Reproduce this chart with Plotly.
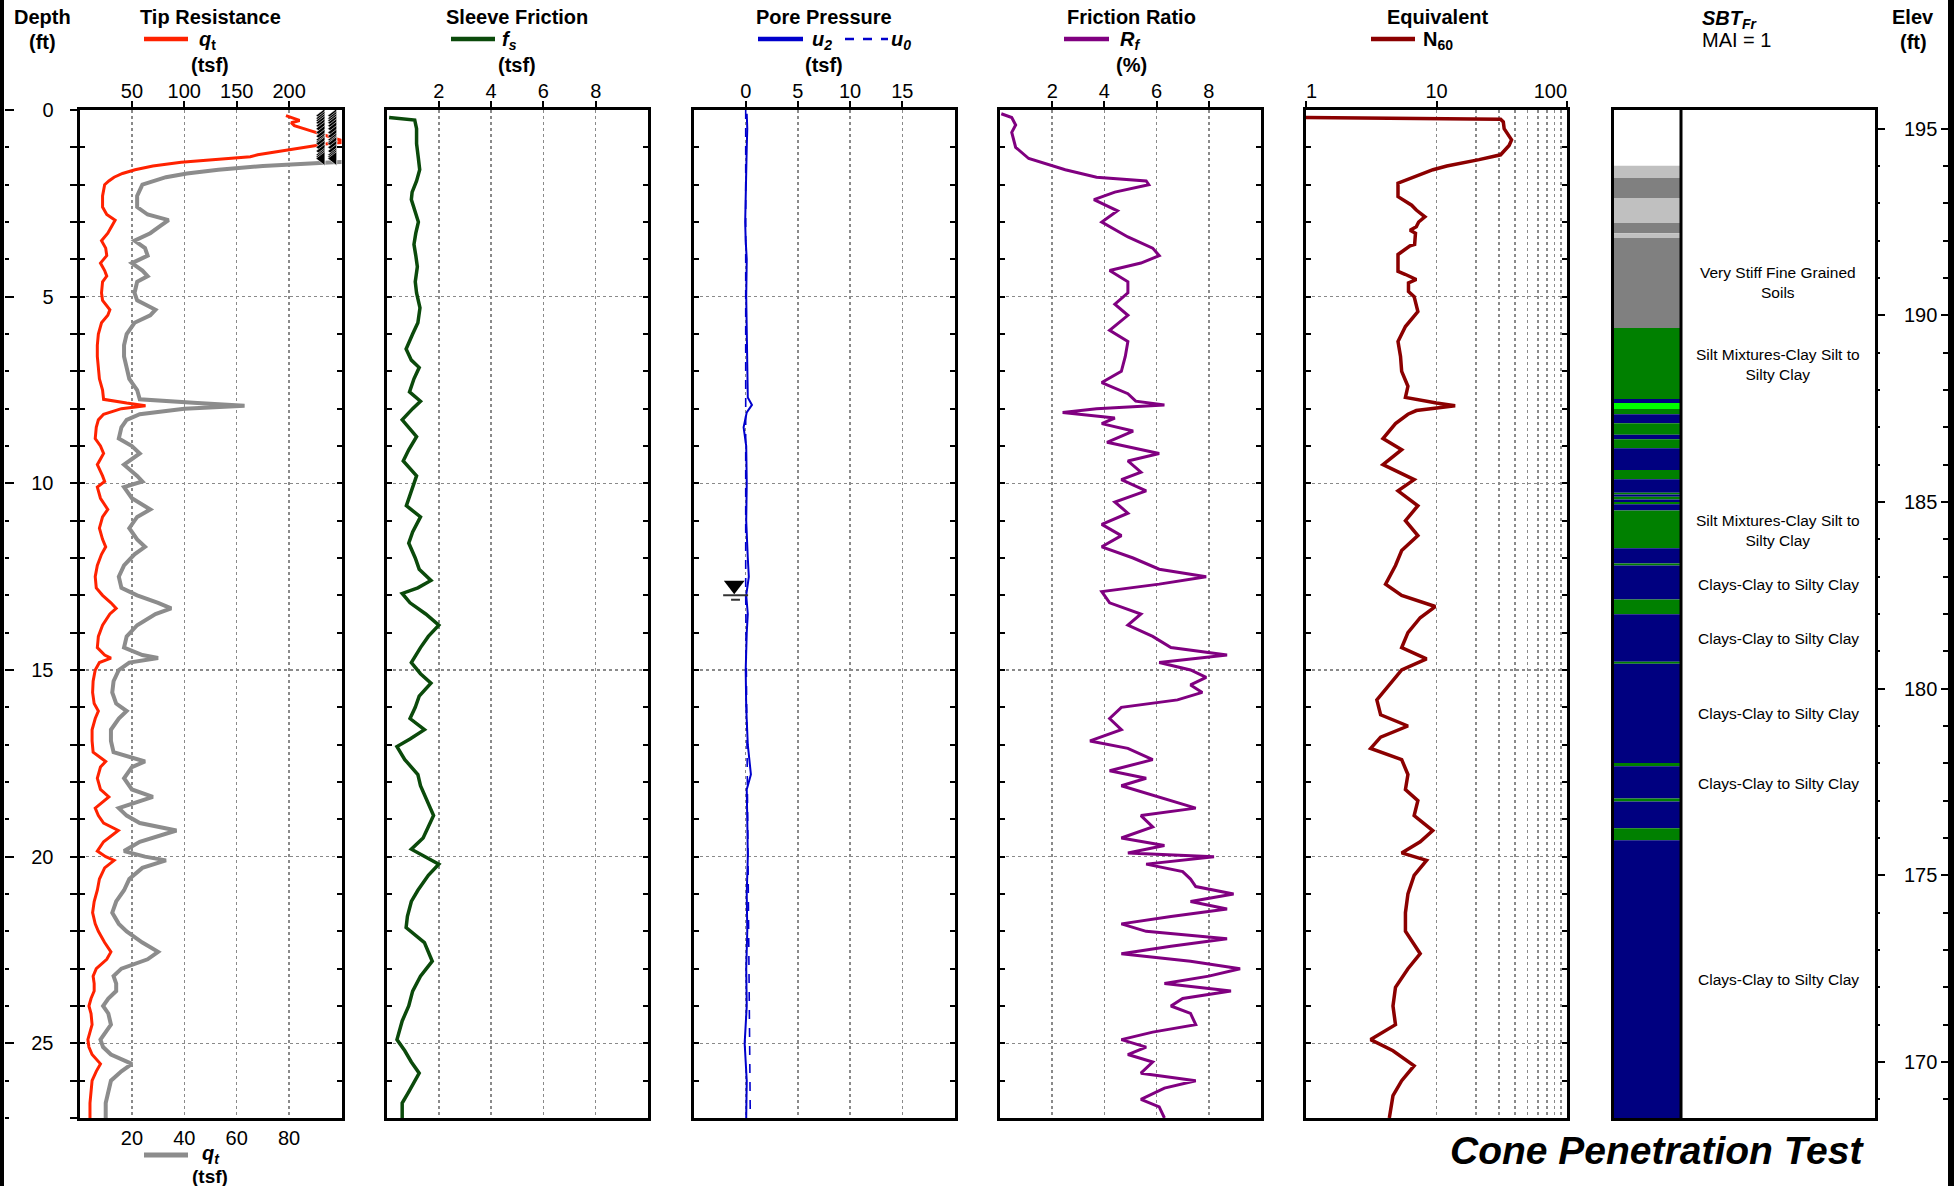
import plotly.graph_objects as go

W, H = 1954, 1186
FONT = "Liberation Sans, Arial, Helvetica, sans-serif"

# ---------------- data ----------------
max_depth = 27.0
ground_elev = 195.5
water_table_depth = 13.0

depth_ticks = [0, 5, 10, 15, 20, 25]
elev_ticks = [195, 190, 185, 180, 175, 170]
tip_ticks = [50, 100, 150, 200]
tip2_ticks = [20, 40, 60, 80]
fs_ticks = [2, 4, 6, 8]
u_ticks = [0, 5, 10, 15]
rf_ticks = [2, 4, 6, 8]
n60_ticks = [1, 10, 100]
n60_ticktext = ["1", "10", "100"]
n60_minor = [20, 30, 40, 50, 60, 70, 80, 90]

qt_depth = [0.15, 0.22, 0.28, 0.34, 0.42, 0.5, 0.6, 0.7, 0.8, 0.86,
            0.9, 1.0, 1.1, 1.2, 1.25, 1.3, 1.4, 1.5, 1.6, 1.7,
            1.8, 1.9, 2.0, 2.3, 2.6, 2.8, 2.95, 3.1, 3.3, 3.5,
            3.7, 3.9, 4.1, 4.3, 4.45, 4.6, 4.9, 5.1, 5.35, 5.5,
            5.7, 6.0, 6.3, 6.6, 6.9, 7.2, 7.5, 7.75, 7.85, 7.92,
            8.0, 8.15, 8.3, 8.5, 8.8, 9.0, 9.2, 9.5, 9.8, 9.95,
            10.1, 10.4, 10.7, 10.9, 11.2, 11.5, 11.7, 11.9, 12.2, 12.5,
            12.8, 13.0, 13.2, 13.35, 13.5, 13.8, 14.1, 14.4, 14.6, 14.68,
            14.8, 15.0, 15.3, 15.6, 15.9, 16.1, 16.3, 16.6, 16.9, 17.2,
            17.45, 17.6, 17.9, 18.2, 18.4, 18.55, 18.7, 18.9, 19.1, 19.3,
            19.45, 19.6, 19.85, 20.0, 20.1, 20.3, 20.6, 20.9, 21.2, 21.5,
            21.8, 22.0, 22.3, 22.55, 22.75, 23.0, 23.2, 23.4, 23.6, 23.8,
            24.0, 24.2, 24.5, 24.7, 24.9, 25.1, 25.3, 25.55, 25.75, 26.0,
            26.3, 26.6, 26.9, 27.0]
qt = [197, 204, 210, 202, 205, 214, 226, 238, 248, 255,
      238, 215, 192, 170, 163, 140, 97, 70, 53, 41,
      33, 28, 24, 22, 22, 26, 34, 31, 27, 21,
      25, 26, 20, 24, 26, 22, 21, 22, 29, 27,
      21, 18, 17, 17, 18, 19, 22, 23, 45, 63,
      40, 23, 18, 16, 15, 20, 23, 17, 22, 24,
      17, 20, 27, 22, 19, 22, 25, 21, 17, 15,
      16, 22, 30, 35, 29, 22, 18, 17, 24, 30,
      19, 15, 13, 12.5, 14, 18, 15, 12, 12, 13,
      25, 20, 17, 20, 28, 22, 15, 18, 23, 37,
      30, 23, 17, 25, 33, 24, 19, 17, 14, 12.5,
      15, 18, 24, 30, 26, 16, 13, 14, 14, 11,
      9, 11, 12, 10, 8, 9, 12, 20, 16, 12,
      11, 10, 10, 10]

fs_depth = [0.2, 0.27, 0.5, 0.9, 1.3, 1.6, 1.9, 2.2, 2.4, 2.7,
            3.0, 3.3, 3.6, 3.9, 4.2, 4.6, 4.9, 5.3, 5.7, 6.0,
            6.4, 6.7, 6.9, 7.2, 7.55, 7.8, 8.0, 8.3, 8.75, 9.1,
            9.4, 9.8, 10.2, 10.6, 10.9, 11.3, 11.6, 12.0, 12.3, 12.6,
            12.8, 12.95, 13.2, 13.5, 13.8, 14.1, 14.4, 14.8, 15.1, 15.35,
            15.7, 16.0, 16.3, 16.6, 16.85, 17.05, 17.4, 17.8, 18.1, 18.4,
            18.9, 19.2, 19.5, 19.8, 20.0, 20.2, 20.5, 20.9, 21.2, 21.6,
            21.9, 22.3, 22.8, 23.2, 23.6, 24.0, 24.4, 24.9, 25.2, 25.5,
            25.8, 26.0, 26.3, 26.6, 27.0]
fs = [0.1, 1.08, 1.15, 1.15, 1.22, 1.27, 1.15, 0.98, 0.95, 1.1,
      1.22, 1.12, 1.05, 1.12, 1.18, 1.1, 1.15, 1.28, 1.2, 1.0,
      0.75, 0.95, 1.25, 1.05, 0.88, 1.3, 1.0, 0.6, 1.15, 0.85,
      0.64, 1.15, 0.95, 0.76, 1.3, 1.0, 0.85, 1.1, 1.25, 1.7,
      1.2, 0.6, 0.9, 1.5, 2.0, 1.6, 1.3, 0.95, 1.3, 1.7,
      1.25, 1.1, 0.9, 1.45, 0.9, 0.4, 0.7, 1.2, 1.3, 1.5,
      1.8, 1.6, 1.4, 0.95, 1.5, 2.0, 1.6, 1.2, 0.95, 0.8,
      0.75, 1.45, 1.75, 1.3, 1.0, 0.85, 0.6, 0.4, 0.7, 0.95,
      1.25, 1.1, 0.85, 0.6, 0.6]

u2_depth = [0.1, 0.5, 1.0, 2.0, 3.0, 3.5, 4.0, 5.0, 6.0, 7.0,
            7.7, 7.9, 8.1, 8.5, 9.0, 10.0, 11.0, 12.0, 12.5, 13.0,
            13.5, 14.0, 15.0, 16.0, 17.0, 17.8, 18.2, 19.0, 20.0, 21.0,
            22.0, 23.0, 24.0, 25.0, 26.0, 27.0]
u2 = [0.1, 0.15, 0.1, 0.05, -0.05, 0.0, 0.1, 0.05, 0.1, 0.15,
      0.2, 0.6, 0.1, -0.2, 0.05, 0.1, 0.05, 0.2, 0.3, 0.05,
      0.2, 0.1, 0.0, 0.05, 0.2, 0.5, 0.1, 0.15, 0.2, 0.1,
      0.15, 0.05, 0.1, -0.1, 0.1, 0.05]
u0_depth = [0.0, 13.0, 27.0]
u0 = [0.0, 0.0, 0.44]

rf_depth = [0.1, 0.2, 0.4, 0.6, 1.0, 1.3, 1.6, 1.8, 1.9, 2.0,
            2.2, 2.4, 2.7, 3.0, 3.4, 3.7, 3.9, 4.1, 4.3, 4.6,
            4.9, 5.2, 5.5, 5.9, 6.2, 6.6, 7.0, 7.3, 7.6, 7.8,
            7.9, 8.0, 8.1, 8.25, 8.4, 8.6, 8.9, 9.2, 9.4, 9.7,
            9.9, 10.2, 10.5, 10.8, 11.1, 11.4, 11.7, 12.0, 12.3, 12.5,
            12.7, 12.9, 13.2, 13.5, 13.8, 14.1, 14.4, 14.6, 14.8, 15.0,
            15.2, 15.4, 15.6, 15.8, 16.0, 16.3, 16.6, 16.9, 17.1, 17.4,
            17.7, 17.9, 18.1, 18.4, 18.7, 18.9, 19.2, 19.5, 19.7, 19.9,
            20.0, 20.2, 20.4, 20.6, 20.8, 21.0, 21.2, 21.4, 21.6, 21.8,
            22.0, 22.2, 22.4, 22.6, 22.8, 23.0, 23.2, 23.4, 23.6, 23.8,
            24.0, 24.2, 24.5, 24.7, 24.9, 25.1, 25.3, 25.5, 25.8, 26.0,
            26.2, 26.5, 26.7, 27.0]
rf = [0.05, 0.45, 0.6, 0.45, 0.6, 1.1, 2.5, 3.7, 5.6, 5.7,
      4.4, 3.6, 4.5, 3.9, 4.9, 5.85, 6.1, 5.4, 4.2, 4.9,
      4.9, 4.4, 4.9, 4.2, 4.9, 4.8, 4.65, 3.9, 4.9, 5.2,
      6.3, 3.7, 2.4, 4.4, 3.9, 5.1, 4.1, 6.1, 4.9, 5.4,
      4.65, 5.6, 4.4, 4.9, 3.9, 4.65, 3.9, 5.1, 6.1, 7.9,
      6.1, 3.9, 4.2, 5.4, 4.9, 5.85, 6.55, 8.7, 6.1, 7.3,
      7.9, 7.3, 7.75, 6.8, 4.65, 4.2, 4.65, 3.45, 4.9, 5.85,
      4.2, 5.6, 4.65, 6.1, 7.5, 5.4, 5.85, 4.65, 6.3, 4.9,
      8.2, 5.6, 7.0, 7.3, 7.5, 8.95, 7.3, 8.7, 6.55, 4.65,
      5.6, 8.7, 6.55, 4.65, 7.3, 9.2, 8.0, 6.3, 8.85, 7.0,
      6.55, 7.3, 7.5, 5.85, 4.65, 5.6, 4.9, 5.85, 5.4, 7.5,
      6.3, 5.4, 6.1, 6.3]

n60_depth = [0.2, 0.25, 0.32, 0.5, 0.7, 0.8, 0.95, 1.04, 1.2, 1.33,
             1.42, 1.5, 1.6, 1.83, 1.96, 2.32, 2.43, 2.55, 2.68, 2.86,
             3.0, 3.13, 3.22, 3.3, 3.6, 3.64, 3.87, 4.32, 4.4, 4.54,
             4.63, 4.86, 5.0, 5.4, 5.8, 6.2, 6.6, 7.0, 7.4, 7.7,
             7.85, 7.92, 8.05, 8.15, 8.4, 8.8, 9.1, 9.5, 9.9, 10.2,
             10.6, 11.0, 11.4, 11.8, 12.2, 12.7, 13.0, 13.3, 13.6, 14.0,
             14.4, 14.7, 15.0, 15.4, 15.8, 16.2, 16.5, 16.8, 17.1, 17.4,
             17.8, 18.2, 18.5, 18.9, 19.3, 19.6, 19.9, 20.1, 20.5, 21.0,
             21.5, 22.0, 22.6, 23.0, 23.5, 24.0, 24.5, 24.9, 25.2, 25.6,
             26.0, 26.4, 27.0]
n60 = [1.0, 31, 32.5, 33, 36, 37.6, 36, 34.3, 31, 21.2,
       15.2, 12, 9.4, 6.3, 5.07, 5.07, 5.74, 6.45, 7.0, 8.15,
       7.3, 7.0, 6.27, 6.9, 6.8, 6.27, 5.07, 5.07, 5.74, 7.0,
       6.1, 6.1, 6.74, 7.2, 5.78, 5.07, 5.3, 5.41, 6.04, 5.78,
       10, 13.9, 7, 6.04, 4.85, 3.89, 5.41, 3.89, 6.74, 5.07,
       7.2, 5.78, 7.2, 5.41, 4.85, 4.07, 5.41, 9.78, 7.5, 6.04,
       5.41, 8.39, 5.41, 4.35, 3.49, 3.73, 6.04, 3.73, 3.13, 5.41,
       6.04, 5.78, 7.2, 6.74, 9.36, 7.5, 5.41, 8.39, 6.74, 6.04,
       5.78, 5.78, 7.5, 6.04, 4.85, 4.64, 4.85, 3.13, 4.64, 6.74,
       5.41, 4.64, 4.35]

sbt_top = [1.49, 1.82, 2.36, 3.03, 3.30, 3.43, 5.84, 7.74, 7.85, 8.01,
           8.15, 8.39, 8.70, 8.82, 9.06, 9.64, 9.89, 10.25, 10.30, 10.36,
           10.43, 10.50, 10.56, 10.73, 11.74, 12.15, 12.20, 13.11, 13.51, 14.78,
           14.83, 17.49, 17.58, 18.44, 18.52, 19.24, 19.56]
VSS, VSF, SIL, CLA, SAN = ("Very Stiff Sand to Clayey Sand", "Very Stiff Fine Grained",
                           "Silt Mixtures", "Clays", "Sand Mixtures")
sbt_zone = [VSS, VSF, VSS, VSF, VSS, VSF, SIL, CLA, SAN, SIL,
            CLA, SIL, CLA, SIL, CLA, SIL, CLA, SIL, CLA, SIL,
            CLA, SIL, CLA, SIL, CLA, SIL, CLA, SIL, CLA, SIL,
            CLA, SIL, CLA, SIL, CLA, SIL, CLA]
sbt_label_depth = [4.63, 6.82, 11.26, 12.7, 14.15, 16.17, 18.04, 23.3]
sbt_label_text = ["Very Stiff Fine Grained<br>Soils",
                  "Silt Mixtures-Clay Silt to<br>Silty Clay",
                  "Silt Mixtures-Clay Silt to<br>Silty Clay",
                  "Clays-Clay to Silty Clay",
                  "Clays-Clay to Silty Clay",
                  "Clays-Clay to Silty Clay",
                  "Clays-Clay to Silty Clay",
                  "Clays-Clay to Silty Clay"]

# ---------------- styling ----------------
zone_colors = {VSS: "#c0c0c0", VSF: "#808080", SIL: "#008000", CLA: "#000080", SAN: "#00ff00"}
C_RED, C_GRAY, C_GREEN, C_BLUE, C_PURPLE, C_N60 = "#ff2200", "#8c8c8c", "#0b4a0b", "#0000cc", "#800080", "#8b0000"
NB = "\u00a0"


def fx(p):
    return p / W


def fy(p):
    return 1 - p / H


Y_TOP, Y_BOT = 110, 1118
ydom = [fy(Y_BOT), fy(Y_TOP)]
P = {"tip": (79.5, 341.5), "fs": (386.5, 648), "u": (693.5, 954.5),
     "rf": (1000, 1261), "n60": (1306, 1567), "sbt": (1614, 1875)}
SBT_COL_R = 1681
QT_MAX, QT2_MAX = 250, 100
SBT_XMAX = (P["sbt"][1] - P["sbt"][0]) / (SBT_COL_R - P["sbt"][0])

fig = go.Figure()

# tip resistance
fig.add_trace(go.Scatter(x=qt, y=qt_depth, mode="lines", line=dict(color=C_GRAY, width=4),
                         xaxis="x2", yaxis="y"))
fig.add_trace(go.Scatter(x=qt, y=qt_depth, mode="lines", line=dict(color=C_RED, width=3),
                         xaxis="x", yaxis="y"))
off_depth = [d for d, v in zip(qt_depth, qt) if v > QT2_MAX]
for frac in (0.925, 0.97):
    fig.add_trace(go.Scatter(x=[QT2_MAX * frac] * len(off_depth), y=off_depth, mode="markers",
                             marker=dict(symbol="triangle-left", size=12, color="black",
                                         line=dict(color="white", width=0.6)),
                             xaxis="x2", yaxis="y"))
# sleeve friction
fig.add_trace(go.Scatter(x=fs, y=fs_depth, mode="lines", line=dict(color=C_GREEN, width=3.5),
                         xaxis="x3", yaxis="y3"))
# pore pressure
fig.add_trace(go.Scatter(x=u0, y=u0_depth, mode="lines", line=dict(color=C_BLUE, width=1.6, dash="dash"),
                         xaxis="x4", yaxis="y4"))
fig.add_trace(go.Scatter(x=u2, y=u2_depth, mode="lines", line=dict(color=C_BLUE, width=2),
                         xaxis="x4", yaxis="y4"))
fig.add_trace(go.Scatter(x=[-1.1], y=[water_table_depth - 0.27], mode="markers",
                         marker=dict(symbol="triangle-down", size=18, color="black"),
                         xaxis="x4", yaxis="y4"))
# friction ratio
fig.add_trace(go.Scatter(x=rf, y=rf_depth, mode="lines", line=dict(color=C_PURPLE, width=3),
                         xaxis="x5", yaxis="y5"))
# N60
fig.add_trace(go.Scatter(x=n60, y=n60_depth, mode="lines", line=dict(color=C_N60, width=3.5),
                         xaxis="x6", yaxis="y6"))
# SBT column
sbt_bottom = sbt_top[1:] + [max_depth]
fig.add_trace(go.Bar(orientation="h", x=[1] * len(sbt_top),
                     y=[(t + b) / 2 for t, b in zip(sbt_top, sbt_bottom)],
                     width=[b - t for t, b in zip(sbt_top, sbt_bottom)], base=0,
                     marker=dict(color=[zone_colors[z] for z in sbt_zone], line=dict(width=0)),
                     xaxis="x7", yaxis="y7"))
# dummy traces so that the extra axes are drawn
for xa, ya in (("x", "y8"), ("x", "y9"), ("x7", "y10"), ("x7", "y11")):
    fig.add_trace(go.Scatter(x=[None], y=[None], xaxis=xa, yaxis=ya, hoverinfo="skip"))

tickfont = dict(family=FONT, size=20, color="black")
grid = dict(showgrid=True, gridcolor="#8a8a8a", griddash="dot", gridwidth=1.5)


def xax(key, rng, tv, anchor, **kw):
    d = dict(domain=[fx(P[key][0]), fx(P[key][1])], range=rng, tickvals=tv, side="top",
             anchor=anchor, showline=True, linewidth=3, linecolor="black", mirror=True,
             ticks="outside", ticklen=6, tickwidth=2, tickcolor="black", tickfont=tickfont,
             ticklabelstandoff=-5, zeroline=False, fixedrange=True)
    d.update(grid)
    d.update(kw)
    return d


def ydepth(anchor, **kw):
    d = dict(domain=ydom, range=[max_depth, 0], anchor=anchor, tickvals=depth_ticks,
             showticklabels=False, showline=True, linewidth=3, linecolor="black", mirror="ticks",
             ticks="inside", ticklen=5, tickwidth=2, tickcolor="black", zeroline=False,
             minor=dict(dtick=1, ticks="inside", ticklen=5, tickwidth=2, tickcolor="black", showgrid=False))
    d.update(grid)
    d.update(kw)
    return d


# N60 end labels sit inside the panel edges in the reference
n60_text = [NB * 2 + n60_ticktext[0], n60_ticktext[1], n60_ticktext[2] + NB * 6]

elev_range = [ground_elev - max_depth, ground_elev]
layout = dict(
    width=W, height=H, margin=dict(l=0, r=0, t=0, b=0, pad=0, autoexpand=False), showlegend=False,
    paper_bgcolor="white", plot_bgcolor="white", font=dict(family=FONT, color="black"),
    xaxis=xax("tip", [0, QT_MAX], tip_ticks, "y"),
    xaxis2=dict(overlaying="x", side="bottom", anchor="y", range=[0, QT2_MAX], tickvals=tip2_ticks,
                showline=False, showgrid=False, zeroline=False, ticks="outside", ticklen=2,
                tickcolor="rgba(0,0,0,0)", tickfont=tickfont),
    xaxis3=xax("fs", [0, 10], fs_ticks, "y3"),
    xaxis4=xax("u", [-5, 20], u_ticks, "y4"),
    xaxis5=xax("rf", [0, 10], rf_ticks, "y5"),
    xaxis6=xax("n60", [0, 2], n60_ticks, "y6", type="log", ticktext=n60_text,
               minor=dict(tickvals=n60_minor, ticks="", showgrid=True, gridcolor="#8a8a8a",
                          griddash="dot", gridwidth=1.5)),
    xaxis7=xax("sbt", [0, SBT_XMAX], [], "y7", showgrid=False, ticks=""),
    yaxis=ydepth("x"),
    yaxis3=ydepth("x3"),
    yaxis4=ydepth("x4"),
    yaxis5=ydepth("x5"),
    yaxis6=ydepth("x6"),
    yaxis7=ydepth("x7", ticks="", showgrid=False, mirror=True, minor=dict(ticks="")),
    yaxis8=dict(overlaying="y", anchor="x", side="left", range=[max_depth, 0], tickvals=depth_ticks,
                ticks="outside", ticklen=9, tickwidth=2, tickcolor="black", tickfont=tickfont,
                ticklabelstandoff=12, showline=False, showgrid=False, zeroline=False,
                minor=dict(dtick=1, ticks="outside", ticklen=9, tickwidth=2, tickcolor="black")),
    yaxis9=dict(overlaying="y", anchor="free", position=fx(4), side="right", range=[max_depth, 0],
                tickvals=depth_ticks, showticklabels=False, ticks="outside", ticklen=9, tickwidth=2,
                tickcolor="black", showline=False, showgrid=False, zeroline=False,
                minor=dict(dtick=1, ticks="outside", ticklen=4, tickwidth=2, tickcolor="black")),
    yaxis10=dict(overlaying="y7", anchor="x7", side="right", range=elev_range,
                 tickvals=elev_ticks, ticks="outside", ticklen=9, tickwidth=2, tickcolor="black",
                 tickfont=tickfont, ticklabelstandoff=15, showline=False, showgrid=False, zeroline=False,
                 minor=dict(dtick=1, ticks="outside", ticklen=4, tickwidth=2, tickcolor="black")),
    yaxis11=dict(overlaying="y7", anchor="free", position=fx(1948), side="left",
                 range=elev_range, tickvals=elev_ticks, showticklabels=False,
                 ticks="outside", ticklen=7, tickwidth=2, tickcolor="black", showline=False,
                 showgrid=False, zeroline=False,
                 minor=dict(dtick=1, ticks="outside", ticklen=5, tickwidth=2, tickcolor="black")),
)
fig.update_layout(**layout)

shapes = []
# page borders
shapes.append(dict(type="line", xref="paper", yref="paper", x0=fx(2), x1=fx(2), y0=0, y1=1,
                   line=dict(color="black", width=4)))
shapes.append(dict(type="line", xref="paper", yref="paper", x0=fx(1951), x1=fx(1951), y0=0, y1=1,
                   line=dict(color="black", width=6)))
# SBT column separator
shapes.append(dict(type="line", xref="paper", yref="paper", x0=fx(SBT_COL_R), x1=fx(SBT_COL_R),
                   y0=ydom[0], y1=ydom[1], line=dict(color="black", width=3)))
# water table symbol lines
shapes.append(dict(type="line", xref="x4", yref="y4", x0=-2.16, x1=0.23, y0=water_table_depth,
                   y1=water_table_depth, line=dict(color="#333333", width=2)))
shapes.append(dict(type="line", xref="x4", yref="y4", x0=-1.4, x1=-0.55, y0=water_table_depth + 0.12,
                   y1=water_table_depth + 0.12, line=dict(color="#333333", width=2)))


def leg_line(x0, x1, y, color, width=4.5, dash="solid"):
    shapes.append(dict(type="line", xref="paper", yref="paper", x0=fx(x0), x1=fx(x1), y0=fy(y), y1=fy(y),
                       line=dict(color=color, width=width, dash=dash)))


leg_line(144, 188, 39, C_RED)
leg_line(451, 495, 39, C_GREEN)
leg_line(758, 803, 39, C_BLUE)
leg_line(845, 888, 39, C_BLUE, width=2.5, dash="dash")
leg_line(1064, 1109, 39, C_PURPLE)
leg_line(1371, 1415, 39, C_N60)
leg_line(144, 188, 1155, C_GRAY, width=5)

annotations = []


def ann(text, x, y, size=20, xanchor="center"):
    annotations.append(dict(text=text, x=fx(x), y=fy(y), xref="paper", yref="paper", showarrow=False,
                            xanchor=xanchor, yanchor="middle",
                            font=dict(family=FONT, size=size, color="black")))


ann("<b>Depth</b>", 42, 17)
ann("<b>(ft)</b>", 42, 42)
ann("<b>Tip Resistance</b>", 210, 17)
ann("<b><i>q</i><sub>t</sub></b>", 197, 41, xanchor="left")
ann("<b>(tsf)</b>", 210, 65)
ann("<b>Sleeve Friction</b>", 517, 17)
ann("<b><i>f<sub>s</sub></i></b>", 500, 41, xanchor="left")
ann("<b>(tsf)</b>", 517, 65)
ann("<b>Pore Pressure</b>", 824, 17)
ann("<b><i>u<sub>2</sub></i></b>", 810, 41, xanchor="left")
ann("<b><i>u<sub>0</sub></i></b>", 889, 41, xanchor="left")
ann("<b>(tsf)</b>", 824, 65)
ann("<b>Friction Ratio</b>", 1131, 17)
ann("<b><i>R<sub>f</sub></i></b>", 1118, 41, xanchor="left")
ann("<b>(%)</b>", 1131, 65)
ann("<b>Equivalent</b>", 1437, 17)
ann("<b>N<sub>60</sub></b>", 1421, 41, xanchor="left")
ann("<b><i>SBT<sub>Fr</sub></i></b>", 1730, 19)
ann("MAI = 1", 1736, 40)
ann("<b>Elev</b>", 1913, 17)
ann("<b>(ft)</b>", 1913, 42)
ann("<b><i>q<sub>t</sub></i></b>", 200, 1154, xanchor="left")
ann("<b>(tsf)</b>", 210, 1176, size=19)
ann("<b><i>Cone Penetration Test</i></b>", 1866, 1150, size=39, xanchor="right")
for d, t in zip(sbt_label_depth, sbt_label_text):
    annotations.append(dict(text=t, x=(1 + SBT_XMAX) / 2, y=d, xref="x7", yref="y7", showarrow=False,
                            xanchor="center", yanchor="middle",
                            font=dict(family=FONT, size=15.5, color="black")))

fig.update_layout(shapes=shapes, annotations=annotations)
fig.write_html("out.html", config={"displayModeBar": False, "staticPlot": True},
               post_script=["document.body.style.margin='0px';document.body.style.overflow='hidden';"])
